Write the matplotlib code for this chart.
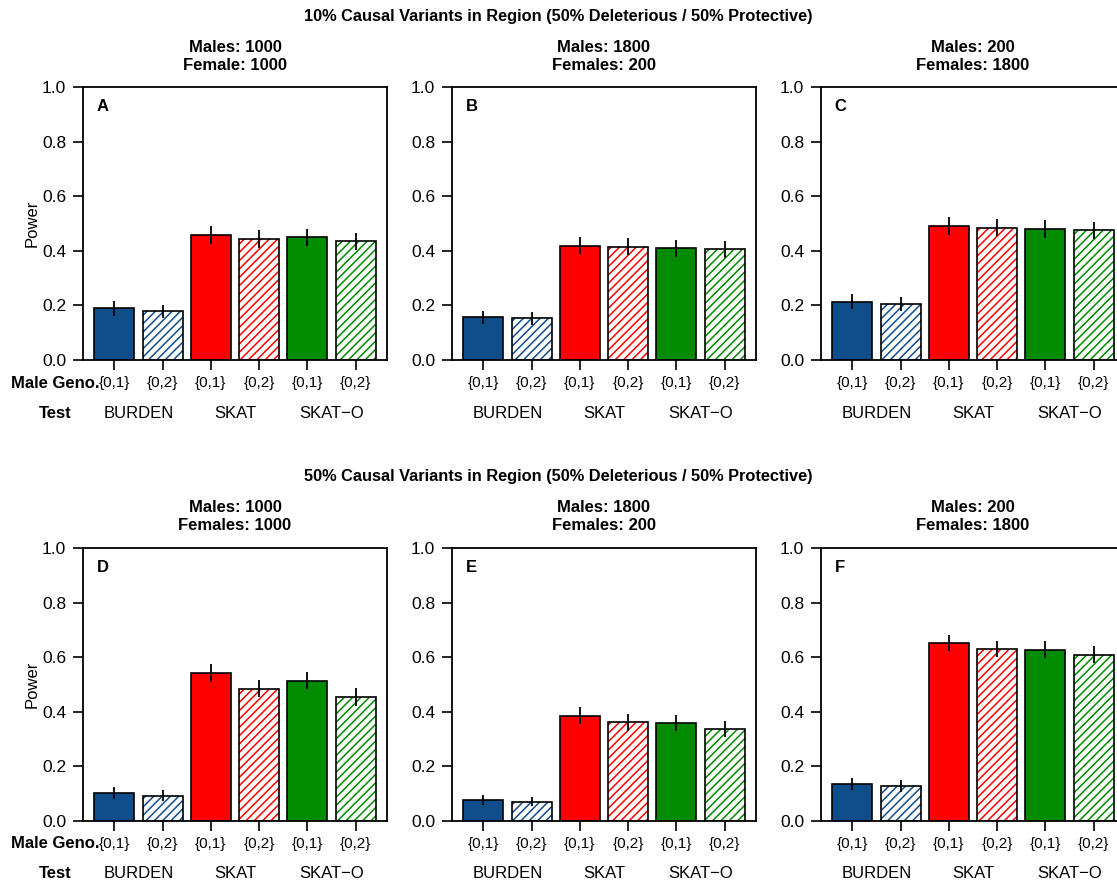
import matplotlib
matplotlib.use("Agg")
import matplotlib.pyplot as plt
from matplotlib.transforms import blended_transform_factory

plt.rcParams['font.family'] = ['Liberation Sans', 'DejaVu Sans']
plt.rcParams['hatch.linewidth'] = 1.1

# ---- data -------------------------------------------------------------
tests = ["BURDEN", "SKAT", "SKAT\u2212O"]
geno_labels = ["{0,1}", "{0,2}", "{0,1}", "{0,2}", "{0,1}", "{0,2}"]
test_colors = ["#104E8B", "#FF0000", "#008B00"]

row_titles = ["10% Causal Variants in Region (50% Deleterious / 50% Protective)",
              "50% Causal Variants in Region (50% Deleterious / 50% Protective)"]
panel_letters = ["A", "B", "C", "D", "E", "F"]
panel_titles = ["Males: 1000\nFemale: 1000", "Males: 1800\nFemales: 200", "Males: 200\nFemales: 1800",
                "Males: 1000\nFemales: 1000", "Males: 1800\nFemales: 200", "Males: 200\nFemales: 1800"]

power_A = [0.189, 0.178, 0.458, 0.443, 0.449, 0.435]
power_B = [0.157, 0.153, 0.419, 0.415, 0.409, 0.405]
power_C = [0.214, 0.206, 0.491, 0.485, 0.480, 0.475]
power_D = [0.104, 0.092, 0.543, 0.485, 0.514, 0.454]
power_E = [0.076, 0.071, 0.386, 0.361, 0.360, 0.336]
power_F = [0.134, 0.129, 0.651, 0.631, 0.628, 0.609]

err_A = [0.026, 0.025, 0.032, 0.032, 0.032, 0.032]
err_B = [0.024, 0.023, 0.032, 0.032, 0.032, 0.032]
err_C = [0.027, 0.026, 0.032, 0.032, 0.032, 0.032]
err_D = [0.022, 0.020, 0.033, 0.032, 0.032, 0.032]
err_E = [0.018, 0.017, 0.031, 0.030, 0.030, 0.029]
err_F = [0.022, 0.022, 0.030, 0.030, 0.030, 0.031]

powers = [power_A, power_B, power_C, power_D, power_E, power_F]
errs = [err_A, err_B, err_C, err_D, err_E, err_F]

# ---- layout (pixels) --------------------------------------------------
W, H = 1117, 883
fig = plt.figure(figsize=(W / 100, H / 100), dpi=100)

ax_lefts = [83, 452, 821]
ax_w = 304
ax_h = 273
ax_bottoms = [360, 821]          # pixel row of y = 0
title_y = [17, 477]
sub_y = [57, 517]

def fx(px):
    return px / W

def fy(py):
    return 1 - py / H

# bar geometry: width 1, gap 0.2 (centres at 0.7, 1.9, ...)
centers = [0.7 + 1.2 * i for i in range(6)]
xlim = (-0.08, 7.48)

for r in range(2):
    fig.text(0.5, fy(title_y[r]), row_titles[r], ha="center", va="center",
             fontsize=11.8, fontweight="bold")
    for c in range(3):
        k = r * 3 + c
        ax = fig.add_axes([fx(ax_lefts[c]), fy(ax_bottoms[r]), fx(ax_w), ax_h / H])
        vals = powers[k]
        ers = errs[k]
        for i, (x, v) in enumerate(zip(centers, vals)):
            col = test_colors[i // 2]
            if i % 2 == 0:
                ax.bar(x, v, width=1.0, color=col, edgecolor="black", linewidth=1.2, zorder=2)
            else:
                ax.bar(x, v, width=1.0, facecolor="white", edgecolor=col, hatch="////",
                       linewidth=0, zorder=2)
                ax.bar(x, v, width=1.0, fill=False, edgecolor="black", linewidth=1.2, zorder=3)
            ax.plot([x, x], [v - ers[i], v + ers[i]], color="black", lw=1.3, zorder=4,
                    solid_capstyle="butt")
        ax.set_xlim(*xlim)
        ax.set_ylim(0, 1)
        ax.set_yticks([0, 0.2, 0.4, 0.6, 0.8, 1.0])
        ax.set_yticklabels(["0.0", "0.2", "0.4", "0.6", "0.8", "1.0"])
        ax.set_xticks(centers)
        ax.set_xticklabels([])
        ax.tick_params(axis="both", direction="out", length=7, width=1.2, labelsize=12.5, pad=5)
        for s in ax.spines.values():
            s.set_linewidth(1.3)
        ax.text(0.045, 0.955, panel_letters[k], transform=ax.transAxes, ha="left", va="top",
                fontsize=12, fontweight="bold")
        if c == 0:
            ax.set_ylabel("Power", fontsize=12, labelpad=2)
        # subtitle above each panel
        fig.text(fx(ax_lefts[c] + ax_w / 2), fy(sub_y[r]), panel_titles[k], ha="center",
                 va="center", fontsize=12, fontweight="bold", linespacing=1.25)
        # genotype coding and test labels under the bars
        trans = blended_transform_factory(ax.transData, fig.transFigure)
        for x, lab in zip(centers, geno_labels):
            ax.text(x, fy(ax_bottoms[r] + 23), lab, transform=trans, ha="center", va="center",
                    fontsize=11, clip_on=False)
        for j, t in enumerate(tests):
            xm = (centers[2 * j] + centers[2 * j + 1]) / 2
            ax.text(xm, fy(ax_bottoms[r] + 53), t, transform=trans, ha="center", va="center",
                    fontsize=12, clip_on=False)
    fig.text(fx(55), fy(ax_bottoms[r] + 23), "Male Geno.", ha="center", va="center",
             fontsize=12, fontweight="bold")
    fig.text(fx(55), fy(ax_bottoms[r] + 53), "Test", ha="center", va="center",
             fontsize=12, fontweight="bold")

fig.savefig("out.png", dpi=100)
